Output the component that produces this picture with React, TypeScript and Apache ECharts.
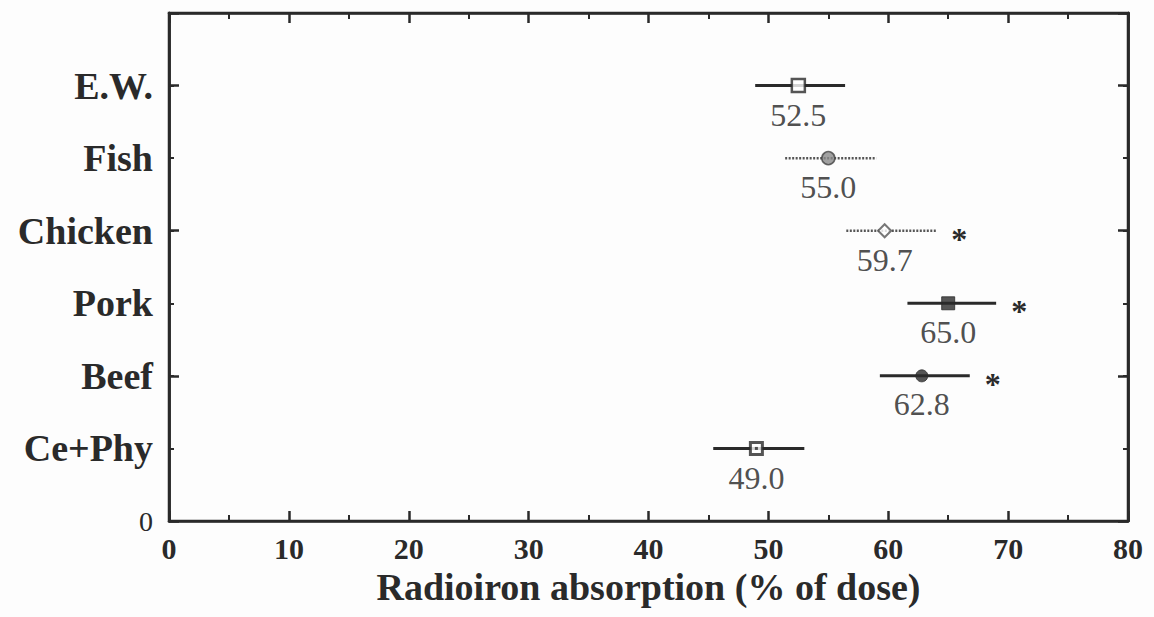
import React, { useEffect, useRef } from "react";
import * as echarts from "echarts";

const categories = ["Ce+Phy", "Beef", "Pork", "Chicken", "Fish", "E.W."];
const positions = [1, 2, 3, 4, 5, 6];
const means = [49.0, 62.8, 65.0, 59.7, 55.0, 52.5];
const lows = [45.4, 59.3, 61.6, 56.5, 51.4, 48.9];
const highs = [53.0, 66.8, 69.0, 64.0, 59.0, 56.4];
const significant = [false, true, true, true, false, false];

const INK = "#2a2a2a";
const FONT = "'Liberation Serif', 'Times New Roman', serif";

// marker styles per category (same order as categories)
const markerStyles = [
  { symbol: "rect", size: 12, color: "#fff", border: INK, bw: 3 },
  { symbol: "circle", size: 12, color: INK, border: INK, bw: 1 },
  { symbol: "rect", size: 13, color: INK, border: INK, bw: 1 },
  { symbol: "diamond", size: 13, color: "#fff", border: "#555", bw: 2 },
  { symbol: "circle", size: 13, color: "#8a8a8a", border: "#444", bw: 1.5 },
  { symbol: "rect", size: 13, color: "#fff", border: INK, bw: 2.5 },
];
const lineStyles = [
  { color: INK, dash: null, w: 3 },
  { color: INK, dash: null, w: 3 },
  { color: INK, dash: null, w: 3 },
  { color: "#555", dash: [2, 1.5], w: 2.5 },
  { color: "#555", dash: [2, 1.5], w: 2.5 },
  { color: INK, dash: null, w: 3 },
];

export default function App() {
  const ref = useRef<HTMLDivElement>(null);
  useEffect(() => {
    if (!ref.current) return;
    const chart = echarts.init(ref.current, null, { renderer: "svg" });

    const axisLine = { show: true, onZero: false, lineStyle: { color: INK, width: 2.5 } };
    const yBase = {
      type: "value",
      min: 0,
      max: 7,
      splitLine: { show: false },
      axisLine,
    };

    const errData = categories.map((c, i) => [lows[i], highs[i], positions[i], i]);
    const pointData = categories.map((c, i) => ({
      value: [means[i], positions[i]],
      symbol: markerStyles[i].symbol,
      symbolSize: markerStyles[i].size,
      itemStyle: {
        color: markerStyles[i].color,
        borderColor: markerStyles[i].border,
        borderWidth: markerStyles[i].bw,
      },
    }));
    const dotData = categories
      .map((c, i) => (i === 0 ? [means[i], positions[i]] : null))
      .filter((d) => d !== null);

    const option: any = {
      animation: false,
      backgroundColor: "#fdfdfd",
      grid: {
        left: 169,
        right: 26,
        top: 13,
        bottom: 96,
        show: true,
        borderColor: INK,
        borderWidth: 2.5,
        backgroundColor: "transparent",
      },
      xAxis: [
        {
          type: "value",
          min: 0,
          max: 80,
          interval: 10,
          position: "bottom",
          axisLine,
          splitLine: { show: false },
          axisTick: { show: true, inside: true, length: 10, lineStyle: { color: INK, width: 2.5 } },
          minorTick: { show: true, splitNumber: 2, length: 6, lineStyle: { color: INK, width: 2 } },
          axisLabel: {
            margin: 12,
            fontFamily: FONT,
            fontWeight: "bold",
            fontSize: 30,
            color: INK,
          },
          name: "Radioiron absorption (% of dose)",
          nameLocation: "middle",
          nameGap: 44,
          nameTextStyle: { fontFamily: FONT, fontWeight: "bold", fontSize: 38, color: INK },
        },
        {
          type: "value",
          min: 0,
          max: 80,
          interval: 10,
          position: "top",
          axisLine,
          splitLine: { show: false },
          axisTick: { show: true, inside: true, length: 10, lineStyle: { color: INK, width: 2.5 } },
          minorTick: { show: true, splitNumber: 2, length: 6, lineStyle: { color: INK, width: 2 } },
          axisLabel: { show: false },
        },
      ],
      yAxis: [
        {
          ...yBase,
          position: "left",
          interval: 1,
          axisTick: { show: true, inside: true, length: 5, lineStyle: { color: INK, width: 2 } },
          axisLabel: {
            margin: 16,
            formatter: (v: number) => {
              if (v === 0) return "{n|0}";
              const idx = positions.indexOf(v);
              return idx >= 0 ? "{b|" + categories[idx] + "}" : "";
            },
            rich: {
              b: { fontFamily: FONT, fontWeight: "bold", fontSize: 38, color: INK },
              n: { fontFamily: FONT, fontSize: 28, color: INK },
            },
          },
        },
        {
          ...yBase,
          position: "left",
          interval: 2,
          axisTick: { show: true, inside: true, length: 10, lineStyle: { color: INK, width: 2.5 } },
          axisLabel: { show: false },
        },
        {
          ...yBase,
          position: "right",
          interval: 1,
          axisTick: { show: true, inside: true, length: 5, lineStyle: { color: INK, width: 2 } },
          axisLabel: { show: false },
        },
        {
          ...yBase,
          position: "right",
          interval: 2,
          axisTick: { show: true, inside: true, length: 10, lineStyle: { color: INK, width: 2.5 } },
          axisLabel: { show: false },
        },
      ],
      series: [
        {
          type: "custom",
          xAxisIndex: 0,
          yAxisIndex: 0,
          data: errData,
          renderItem: (params: any, api: any) => {
            const i = api.value(3);
            const a = api.coord([api.value(0), api.value(2)]);
            const b = api.coord([api.value(1), api.value(2)]);
            const ls = lineStyles[i];
            const children: any[] = [
              {
                type: "line",
                shape: { x1: a[0], y1: a[1], x2: b[0], y2: b[1] },
                style: {
                  stroke: ls.color,
                  lineWidth: ls.w,
                  lineDash: ls.dash || undefined,
                },
              },
            ];
            if (significant[i]) {
              children.push({
                type: "text",
                style: {
                  x: b[0] + 23,
                  y: b[1] + 8,
                  text: "*",
                  fontFamily: FONT,
                  fontWeight: "bold",
                  fontSize: 32,
                  fill: INK,
                  align: "center",
                  verticalAlign: "middle",
                },
              });
            }
            return { type: "group", children };
          },
          z: 1,
        },
        {
          type: "scatter",
          xAxisIndex: 0,
          yAxisIndex: 0,
          data: pointData,
          label: {
            show: true,
            position: "bottom",
            distance: 6,
            formatter: (p: any) => p.value[0].toFixed(1),
            fontFamily: FONT,
            fontSize: 32,
            color: "#222",
          },
          z: 2,
        },
        {
          type: "scatter",
          xAxisIndex: 0,
          yAxisIndex: 0,
          data: dotData,
          symbol: "rect",
          symbolSize: 3,
          itemStyle: { color: INK },
          z: 3,
          silent: true,
        },
      ],
    };
    chart.setOption(option);
    return () => chart.dispose();
  }, []);

  return (
    <div
      ref={ref}
      style={{ position: "fixed", left: 0, top: 0, width: 1154, height: 617 }}
    />
  );
}
